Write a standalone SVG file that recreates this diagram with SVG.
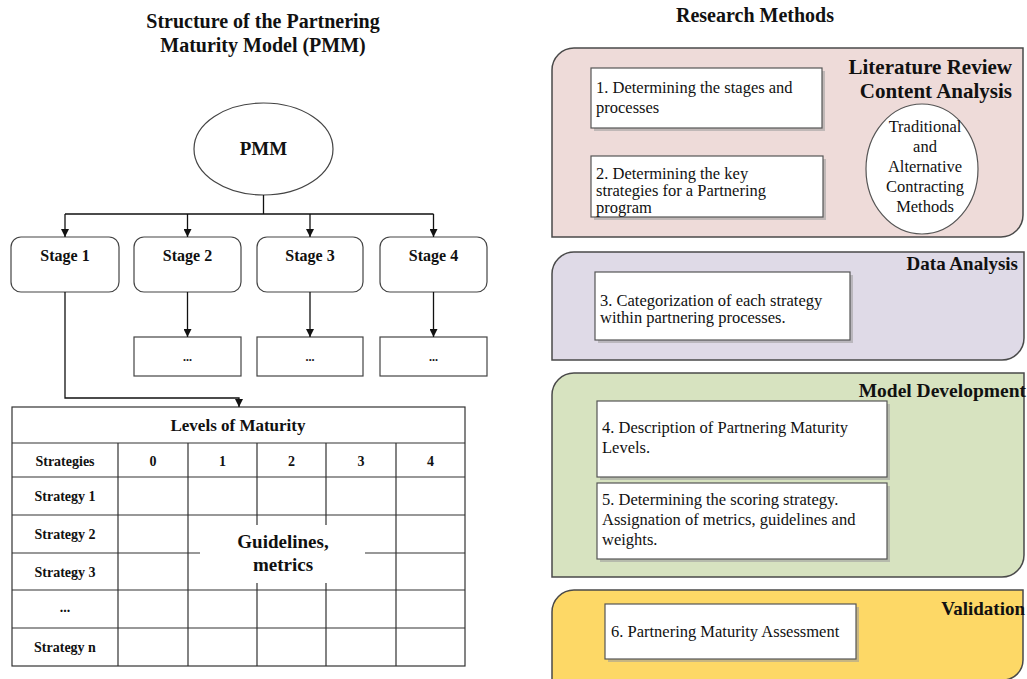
<svg xmlns="http://www.w3.org/2000/svg" width="1027" height="679" viewBox="0 0 1027 679">
  <defs>
    <marker id="arrow" viewBox="0 0 10 10" refX="10" refY="5" markerWidth="8" markerHeight="8" markerUnits="userSpaceOnUse" orient="auto">
      <path d="M0,0 L10,5 L0,10 Z" fill="#111"/>
    </marker>
    <style>
      .title { font-family: "Liberation Serif", "Times New Roman", serif; font-weight: bold; font-size: 20px; fill: #111; text-anchor: middle; }
      .bold { font-family: "Liberation Serif", "Times New Roman", serif; font-weight: bold; fill: #111; }
      .mid { text-anchor: middle; }
      .end { text-anchor: end; }
      .body { font-family: "Liberation Serif", "Times New Roman", serif; font-size: 16.5px; fill: #111; }
      .node { fill: #fff; stroke: #444; stroke-width: 1.2; }
      .grid { stroke: #333; stroke-width: 1.2; fill: none; }
      .conn { stroke: #111; stroke-width: 1.3; fill: none; }
      .panel { stroke: #4a4a4a; stroke-width: 1.5; }
      .card { fill: #fff; stroke: #555; stroke-width: 1.2; }
      .shadow { fill: #9a9a9a; opacity: 0.55; }
    </style>
  </defs>

  <rect width="1027" height="679" fill="#fff"/>

  <!-- Left: model structure -->
  <text class="title" x="263" y="28">Structure of the Partnering</text>
  <text class="title" x="263" y="52">Maturity Model (PMM)</text>

  <g id="pmm">
    <ellipse cx="263.5" cy="149" rx="69.5" ry="46" fill="#fff" stroke="#444" stroke-width="1.2"/>
    <text class="bold mid" x="263.5" y="155" font-size="19">PMM</text>
  </g>

  <g id="stage1">
    <rect class="node" x="11" y="237" width="108" height="55" rx="10"/>
    <text class="bold mid" x="65" y="261" font-size="16">Stage 1</text>
  </g>
  <g id="stage2">
    <rect class="node" x="134" y="237" width="107" height="55" rx="10"/>
    <text class="bold mid" x="187.5" y="261" font-size="16">Stage 2</text>
  </g>
  <g id="stage3">
    <rect class="node" x="257" y="237" width="106" height="55" rx="10"/>
    <text class="bold mid" x="310" y="261" font-size="16">Stage 3</text>
  </g>
  <g id="stage4">
    <rect class="node" x="380" y="237" width="107" height="55" rx="10"/>
    <text class="bold mid" x="433.5" y="261" font-size="16">Stage 4</text>
  </g>

  <g id="stage2-detail">
    <rect class="node" x="134" y="337" width="107" height="39"/>
    <text class="bold mid" x="187.5" y="361" font-size="12">...</text>
  </g>
  <g id="stage3-detail">
    <rect class="node" x="257" y="337" width="106" height="39"/>
    <text class="bold mid" x="310" y="361" font-size="12">...</text>
  </g>
  <g id="stage4-detail">
    <rect class="node" x="380" y="337" width="107" height="39"/>
    <text class="bold mid" x="433.5" y="361" font-size="12">...</text>
  </g>

  <g id="maturity-table">
    <rect class="grid" x="12" y="407" width="453" height="259" fill="#fff"/>
    <!-- row rules -->
    <path class="grid" d="M12,443 H465 M12,477 H465 M12,515 H465 M12,553 H465 M12,590 H465 M12,628 H465"/>
    <!-- column rules -->
    <path class="grid" d="M118,443 V666 M188,443 V666 M257,443 V666 M326,443 V666 M396,443 V666"/>
    <!-- clear area behind the centre label -->
    <rect x="200" y="525" width="165" height="58" fill="#fff"/>
    <text class="bold mid" x="238" y="431" font-size="17">Levels of Maturity</text>
    <g class="bold mid" font-size="14">
      <text x="65" y="466">Strategies</text>
      <text x="153" y="466">0</text>
      <text x="222.5" y="466">1</text>
      <text x="291.5" y="466">2</text>
      <text x="361" y="466">3</text>
      <text x="430.5" y="466">4</text>
      <text x="65" y="501">Strategy 1</text>
      <text x="65" y="539">Strategy 2</text>
      <text x="65" y="577">Strategy 3</text>
      <text x="65" y="612">...</text>
      <text x="65" y="652">Strategy n</text>
    </g>
    <text class="bold mid" x="283" y="548" font-size="19">Guidelines,</text>
    <text class="bold mid" x="283" y="571" font-size="19">metrics</text>
  </g>

  <g id="connectors">
    <path class="conn" d="M263.5,195 V214 M65,214 H433.5"/>
    <path class="conn" d="M65,214 V237" marker-end="url(#arrow)"/>
    <path class="conn" d="M187.5,214 V237" marker-end="url(#arrow)"/>
    <path class="conn" d="M310,214 V237" marker-end="url(#arrow)"/>
    <path class="conn" d="M433.5,214 V237" marker-end="url(#arrow)"/>
    <path class="conn" d="M187.5,292 V337" marker-end="url(#arrow)"/>
    <path class="conn" d="M310,292 V337" marker-end="url(#arrow)"/>
    <path class="conn" d="M433.5,292 V337" marker-end="url(#arrow)"/>
    <path class="conn" d="M65,292 V398 H239 V407" marker-end="url(#arrow)"/>
  </g>

  <!-- Right: research methods -->
  <text class="title" x="755" y="22">Research Methods</text>

  <g id="literature-review">
    <path class="panel" fill="#eedbd9" d="M552,70 A22,22 0 0 1 574,48 H1023 V215 A22,22 0 0 1 1001,237 H552 Z"/>
    <text class="bold end" x="1012" y="74" font-size="21">Literature Review</text>
    <text class="bold end" x="1012" y="98" font-size="21">Content Analysis</text>
    <rect class="shadow" x="594" y="71" width="231" height="60"/>
    <rect class="card" x="591" y="68" width="231" height="60"/>
    <text class="body" x="596" y="93">1. Determining the stages and</text>
    <text class="body" x="596" y="113">processes</text>
    <rect class="shadow" x="594" y="159" width="232" height="61"/>
    <rect class="card" x="591" y="156" width="232" height="61"/>
    <text class="body" x="596" y="179">2. Determining the key</text>
    <text class="body" x="596" y="196">strategies for a Partnering</text>
    <text class="body" x="596" y="213">program</text>
    <ellipse cx="922" cy="169" rx="56" ry="65" fill="#fff" stroke="#555" stroke-width="1.2"/>
    <g class="body mid" font-size="16.5">
      <text x="925" y="132">Traditional</text>
      <text x="925" y="152">and</text>
      <text x="925" y="172">Alternative</text>
      <text x="925" y="192">Contracting</text>
      <text x="925" y="212">Methods</text>
    </g>
  </g>

  <g id="data-analysis">
    <path class="panel" fill="#dfdae7" d="M552,274 A22,22 0 0 1 574,252 H1024 V338 A22,22 0 0 1 1002,360 H552 Z"/>
    <text class="bold end" x="1018" y="270" font-size="19">Data Analysis</text>
    <rect class="shadow" x="598" y="275" width="255" height="68"/>
    <rect class="card" x="595" y="272" width="255" height="68"/>
    <text class="body" x="600" y="306">3. Categorization of each strategy</text>
    <text class="body" x="600" y="323">within partnering processes.</text>
  </g>

  <g id="model-development">
    <path class="panel" fill="#d7e3c0" d="M552,395 A22,22 0 0 1 574,373 H1024 V555 A22,22 0 0 1 1002,577 H552 Z"/>
    <text class="bold end" x="1026" y="397" font-size="19.5">Model Development</text>
    <rect class="shadow" x="600" y="404" width="290" height="76"/>
    <rect class="card" x="597" y="401" width="290" height="76"/>
    <text class="body" x="602" y="433">4. Description of Partnering Maturity</text>
    <text class="body" x="602" y="453">Levels.</text>
    <rect class="shadow" x="600" y="486" width="290" height="76"/>
    <rect class="card" x="597" y="483" width="290" height="76"/>
    <text class="body" x="602" y="505">5. Determining the scoring strategy.</text>
    <text class="body" x="602" y="525">Assignation of metrics, guidelines and</text>
    <text class="body" x="602" y="545">weights.</text>
  </g>

  <g id="validation">
    <path class="panel" fill="#fdd866" d="M552,612 A22,22 0 0 1 574,590 H1023 V660 A20,20 0 0 1 1003,680 H552 Z"/>
    <text class="bold end" x="1025" y="615" font-size="19">Validation</text>
    <rect class="shadow" x="608" y="607" width="251" height="55"/>
    <rect class="card" x="605" y="604" width="251" height="55"/>
    <text class="body" x="611" y="637">6. Partnering Maturity Assessment</text>
  </g>
</svg>
